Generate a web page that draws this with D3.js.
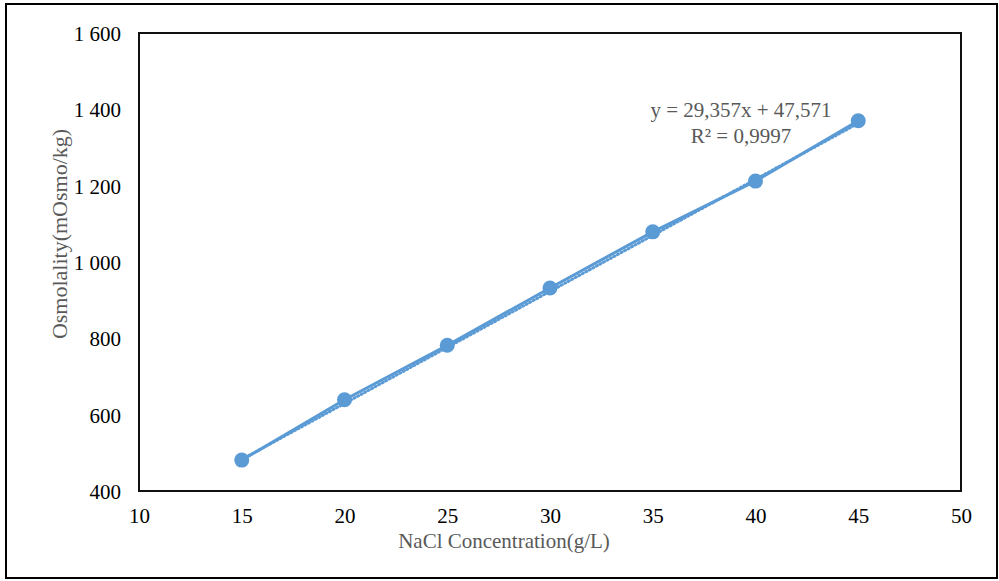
<!DOCTYPE html>
<html>
<head>
<meta charset="utf-8">
<script src="https://cdn.jsdelivr.net/npm/d3@7"></script>
<style>
  body { margin: 0; background: #fff; }
  svg { display: block; }
  .tick text { font-family: "Liberation Serif", "Times New Roman", serif; font-size: 21px; fill: #000; }
  .title { font-family: "Liberation Serif", "Times New Roman", serif; font-size: 21px; fill: #595959; }
</style>
</head>
<body>
<div id="chart"></div>
<script>
// data
var concentration = [15, 20, 25, 30, 35, 40, 45];
var osmolality = [481, 639, 782, 932, 1079, 1212, 1370];
var xTicks = [10, 15, 20, 25, 30, 35, 40, 45, 50];
var yTicks = [400, 600, 800, 1000, 1200, 1400, 1600];
var slope = 29.357, intercept = 47.571;
var equationLines = ["y = 29,357x + 47,571", "R² = 0,9997"];

var W = 999, H = 581;
var plot = {left: 139, top: 33, right: 961, bottom: 491};
var blue = "#5B9BD5";

var locale = d3.formatLocale({decimal: ",", thousands: "\u00a0", grouping: [3], currency: ["", ""]});
var fmt = locale.format(",d");

var svg = d3.select("#chart").append("svg")
    .attr("width", W)
    .attr("height", H);

// outer frame
svg.append("rect")
   .attr("x", 6).attr("y", 4)
   .attr("width", 991).attr("height", 574)
   .attr("fill", "#fff")
   .attr("stroke", "#000")
   .attr("stroke-width", 2);

var x = d3.scaleLinear().domain([10, 50]).range([plot.left, plot.right]);
var y = d3.scaleLinear().domain([400, 1600]).range([plot.bottom, plot.top]);

// plot frame
svg.append("rect")
   .attr("x", plot.left).attr("y", plot.top)
   .attr("width", plot.right - plot.left)
   .attr("height", plot.bottom - plot.top)
   .attr("fill", "none")
   .attr("stroke", "#111")
   .attr("stroke-width", 2);

// axes (labels only, no tick marks)
svg.append("g")
   .attr("transform", "translate(0," + plot.bottom + ")")
   .call(d3.axisBottom(x).tickValues(xTicks).tickSize(0).tickPadding(17))
   .call(function(g) { g.select(".domain").remove(); });

svg.append("g")
   .attr("transform", "translate(" + plot.left + ",0)")
   .call(d3.axisLeft(y).tickValues(yTicks).tickFormat(fmt).tickSize(0).tickPadding(18))
   .call(function(g) { g.select(".domain").remove(); })
   .selectAll(".tick text").attr("dy", "0.35em");

// linear trendline (dotted)
var trend = d3.extent(concentration).map(function(c) { return {x: c, y: slope * c + intercept}; });
svg.append("path")
   .datum(trend)
   .attr("fill", "none")
   .attr("stroke", blue)
   .attr("stroke-width", 3)
   .attr("stroke-dasharray", "1 3")
   .attr("stroke-linecap", "round")
   .attr("transform", "translate(0,2)")
   .attr("d", d3.line().x(function(d) { return x(d.x); }).y(function(d) { return y(d.y); }));

// data line
var pts = concentration.map(function(c, i) { return {x: c, y: osmolality[i]}; });
svg.append("path")
   .datum(pts)
   .attr("fill", "none")
   .attr("stroke", blue)
   .attr("stroke-width", 3)
   .attr("stroke-linejoin", "round")
   .attr("d", d3.line().x(function(d) { return x(d.x); }).y(function(d) { return y(d.y); }));

svg.selectAll("circle.pt")
   .data(pts)
   .enter().append("circle")
   .attr("class", "pt")
   .attr("cx", function(d) { return x(d.x); })
   .attr("cy", function(d) { return y(d.y); })
   .attr("r", 7.5)
   .attr("fill", blue);

// equation label
svg.selectAll("text.eq")
   .data(equationLines)
   .enter().append("text")
   .attr("class", "title")
   .attr("x", 741)
   .attr("y", function(d, i) { return 117 + i * 26; })
   .attr("text-anchor", "middle")
   .text(function(d) { return d; });

// axis titles
svg.append("text")
   .attr("class", "title")
   .attr("x", 504).attr("y", 548)
   .attr("text-anchor", "middle")
   .text("NaCl Concentration(g/L)");

svg.append("text")
   .attr("class", "title")
   .style("font-size", "22px")
   .attr("transform", "translate(67,234) rotate(-90)")
   .attr("text-anchor", "middle")
   .text("Osmolality(mOsmo/kg)");
</script>
</body>
</html>
